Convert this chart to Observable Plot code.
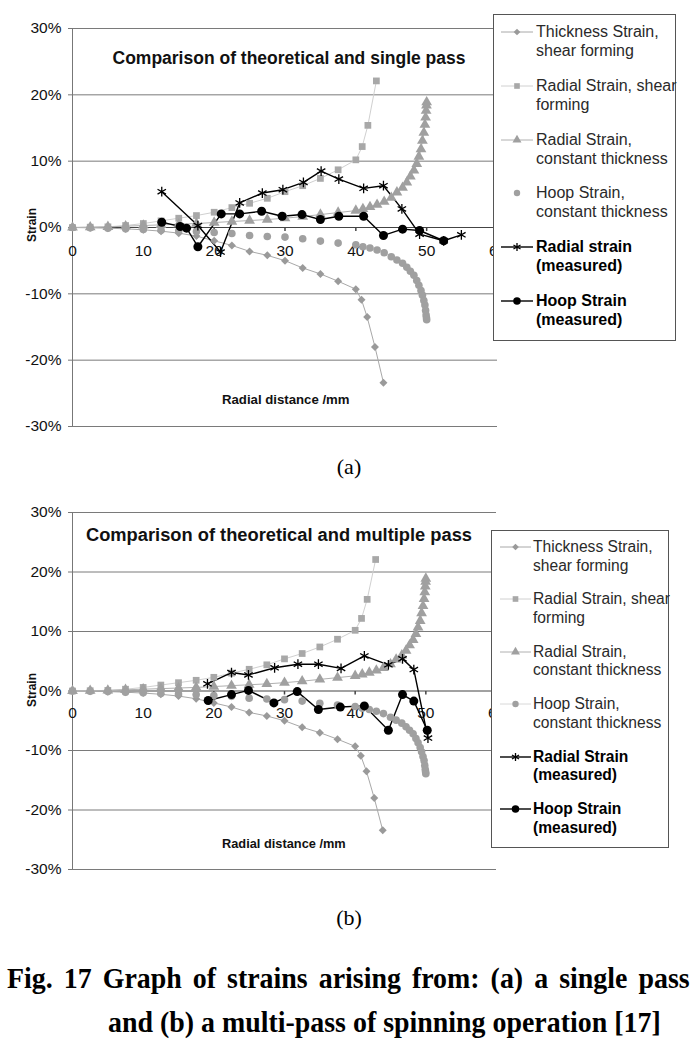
<!DOCTYPE html>
<html>
<head>
<meta charset="utf-8">
<script src="https://cdn.jsdelivr.net/npm/d3@7"></script>
<script src="https://cdn.jsdelivr.net/npm/@observablehq/plot@0.6"></script>
<style>
  html, body { margin: 0; padding: 0; background: #fff; }
  #page { position: relative; width: 698px; height: 1049px; overflow: hidden; font-family: "Liberation Sans", Arial, sans-serif; }
  .abs { position: absolute; white-space: nowrap; }
  .title { font-weight: bold; color: #111; transform: translate(-50%, -50%); }
  .axlab { font-weight: bold; color: #111; }
  .legend { position: absolute; border: 1px solid #555; background: #fff; box-sizing: border-box; }
  .legend .t { position: absolute; color: #2a2a2a; white-space: nowrap; transform: translateY(-50%); }
  .legend .t.b { font-weight: bold; color: #000; }
  .cap { font-family: "Liberation Serif", "Times New Roman", serif; color: #000; }
  .just { text-align: justify; text-align-last: justify; }
</style>
</head>
<body>
<div id="page"></div>
<script>
// ---------- data ----------
const xTicks = [0, 10, 20, 30, 40, 50, 60];
const yTicks = [-30, -20, -10, 0, 10, 20, 30];

// theoretical curves (same in both panels), strain in %
const shearX = [0,2.5,5,7.5,10,12.5,15,17.5,20,22.5,25,27.5,30,32.5,35,37.5,40,40.8,41.6,42.7,43.9];
const thicknessShear = [0,-0.05,-0.1,-0.2,-0.35,-0.55,-0.85,-1.3,-2.0,-2.7,-3.6,-4.2,-5.0,-6.1,-7.0,-8.1,-9.3,-10.9,-13.5,-18.0,-23.4];

const radialShearX = [0,2.5,5,7.5,10,12.5,15,17.5,20,22.5,25,27.5,30,32.5,35,37.5,40,40.9,41.7,42.9];
const radialShear = [0,0.05,0.1,0.3,0.6,1.0,1.4,1.8,2.3,3.0,3.65,4.4,5.4,6.3,7.4,8.7,10.2,12.2,15.4,22.1];

const constX = [0,2.5,5,7.5,10,12.5,15,17.5,20,22.5,25,27.5,30,32.5,35,37.5,40,41,42,43,44,45,45.8,46.6,47.2,47.7,48.2,48.6,48.9,49.2,49.4,49.6,49.75,49.85,49.92,49.97,50];
const radialConst = [0,0.05,0.1,0.2,0.3,0.4,0.5,0.6,0.75,0.9,1.05,1.2,1.4,1.65,1.95,2.25,2.55,2.8,3.1,3.45,3.9,4.5,5.3,6.0,6.8,7.7,8.6,9.6,10.7,11.8,13.1,14.3,15.5,16.6,17.6,18.4,18.9];
const hoopConst = [0,-0.05,-0.1,-0.2,-0.3,-0.4,-0.5,-0.6,-0.75,-0.9,-1.2,-1.35,-1.45,-1.7,-2.05,-2.35,-2.6,-2.9,-3.1,-3.4,-3.8,-4.4,-4.9,-5.4,-6.0,-6.6,-7.2,-8.0,-8.7,-9.5,-10.2,-11.0,-11.7,-12.5,-13.2,-13.6,-13.9];

// measured, panel (a) single pass
const radialMeasA_X = [12.6,17.7,20.9,23.6,26.8,29.7,32.6,35.1,37.6,41.1,43.9,46.5,49.0,52.4,54.9];
const radialMeasA = [5.4,0.3,-3.7,3.7,5.2,5.7,6.8,8.5,7.3,5.9,6.3,2.8,-1.0,-2.0,-1.1];
const hoopMeasA_X = [12.6,15.2,16.1,17.7,21.0,23.6,26.7,29.6,32.4,35.0,37.6,41.1,43.9,46.6,49.0,52.4];
const hoopMeasA = [0.8,0.15,-0.1,-2.9,2.05,2.05,2.45,1.7,1.95,1.2,1.7,1.7,-1.2,-0.25,-0.45,-2.0];

// measured, panel (b) multiple pass
const radialMeasB_X = [19.1,22.5,24.9,28.6,31.9,34.8,38.0,41.3,44.7,46.7,48.3,50.3];
const radialMeasB = [1.2,3.1,2.7,3.9,4.5,4.5,3.8,5.9,4.4,5.4,3.6,-7.9];
const hoopMeasB_X = [19.2,22.5,24.9,28.5,31.8,34.8,37.9,41.3,44.7,46.7,48.3,50.2];
const hoopMeasB = [-1.6,-0.6,0.1,-2.0,-0.1,-3.1,-2.7,-2.5,-6.6,-0.6,-1.7,-6.6];

const legendA = ["Thickness Strain,|shear forming", "Radial Strain, shear|forming", "Radial Strain,|constant thickness", "Hoop Strain,|constant thickness", "Radial strain|(measured)", "Hoop Strain|(measured)"];
const legendB = ["Thickness Strain,|shear forming", "Radial Strain, shear|forming", "Radial Strain,|constant thickness", "Hoop Strain,|constant thickness", "Radial Strain|(measured)", "Hoop Strain|(measured)"];

// ---------- helpers ----------
const pts = (xs, ys) => xs.map((x, i) => ({x, y: ys[i]}));
const tickSymbol = { draw(ctx, size) { const h = Math.sqrt(size); ctx.moveTo(0, 0); ctx.lineTo(0, h); } };

const styles = [
  {symbol: "diamond2", fill: "#9a9a9a", stroke: "none", r: 3.6, line: "#a8a8a8", lw: 1},
  {symbol: "square", fill: "#a8a8a8", stroke: "none", r: 3.8, line: "#d0d0d0", lw: 1},
  {symbol: "triangle", fill: "#a0a0a0", stroke: "none", r: 4.0, line: "#b0b0b0", lw: 1},
  {symbol: "circle", fill: "#a0a0a0", stroke: "none", r: 3.8, line: null, lw: 1},
  {symbol: "asterisk", fill: "none", stroke: "#000", r: 4.6, line: "#000", lw: 1.4},
  {symbol: "circle", fill: "#000", stroke: "none", r: 4.5, line: "#000", lw: 1.4}
];

function chart(cfg) {
  const seriesData = [
    pts(shearX, thicknessShear),
    pts(radialShearX, radialShear),
    pts(constX, radialConst),
    pts(constX, hoopConst),
    pts(cfg.radX, cfg.rad),
    pts(cfg.hoopX, cfg.hoop)
  ];
  const marks = [
    Plot.gridY(yTicks.filter(d => d !== 0), {stroke: "#7a7a7a", strokeOpacity: 1, strokeWidth: 1}),
    Plot.axisY(yTicks, {label: null, tickFormat: d => d + "%", tickSize: 4, tickPadding: 7, fontSize: 15.5, stroke: "#777", color: "#111"}),
    Plot.ruleX([0], {stroke: "#777", strokeWidth: 1}),
    Plot.ruleY([0], {stroke: "#444", strokeWidth: 1}),
    Plot.dot(xTicks.slice(1), {x: d => d, y: 0, symbol: tickSymbol, r: 2, stroke: "#444", fill: "none"}),
    Plot.text(xTicks, {x: d => d, y: 0, text: d => String(d), dy: cfg.xLabelDy, fontSize: 15.5, fill: "#111"})
  ];
  seriesData.forEach((data, i) => {
    const s = styles[i];
    if (s.line) marks.push(Plot.line(data, {x: "x", y: "y", stroke: s.line, strokeWidth: s.lw, curve: "linear"}));
  });
  seriesData.forEach((data, i) => {
    const s = styles[i];
    marks.push(Plot.dot(data, {x: "x", y: "y", symbol: s.symbol, r: s.r, fill: s.fill, stroke: s.stroke, strokeWidth: 1.3}));
  });
  const svg = Plot.plot({
    width: 698,
    height: cfg.height,
    marginLeft: 72,
    marginRight: cfg.marginRight,
    marginTop: cfg.marginTop,
    marginBottom: cfg.marginBottom,
    x: {domain: [0, 60], axis: null},
    y: {domain: [-30, 30], axis: null},
    style: {background: "transparent", fontFamily: "'Liberation Sans', Arial, sans-serif", overflow: "visible"},
    marks
  });
  svg.style.position = "absolute";
  svg.style.left = "0px";
  svg.style.top = cfg.top + "px";
  return svg;
}

function legend(cfg, labels) {
  const box = document.createElement("div");
  box.className = "legend";
  Object.assign(box.style, {left: cfg.left + "px", top: cfg.top + "px", width: cfg.w + "px", height: cfg.h + "px"});
  const symMap = {diamond2: d3.symbolDiamond2, square: d3.symbolSquare, triangle: d3.symbolTriangle, circle: d3.symbolCircle, asterisk: d3.symbolAsterisk};
  labels.forEach((lab, i) => {
    const s = styles[i];
    const cy = cfg.first + i * cfg.step;
    const svg = d3.create("svg").attr("width", 40).attr("height", 14)
      .style("position", "absolute").style("left", cfg.lx + "px").style("top", (cy - 7) + "px").style("overflow", "visible");
    const showLine = s.line || cfg.hoopLine;
    if (showLine) svg.append("line").attr("x1", 0).attr("x2", cfg.lw).attr("y1", 7).attr("y2", 7)
      .attr("stroke", s.line || "#d8d8d8").attr("stroke-width", s.lw);
    svg.append("path").attr("d", d3.symbol(symMap[s.symbol], Math.PI * s.r * s.r * 0.7)())
      .attr("transform", `translate(${cfg.lw / 2},7)`)
      .attr("fill", s.fill).attr("stroke", s.stroke).attr("stroke-width", 1.3);
    box.appendChild(svg.node());
    lab.split("|").forEach((line, j) => {
      const t = document.createElement("div");
      t.className = "t" + (i >= 4 ? " b" : "");
      t.textContent = line;
      t.style.fontSize = cfg.fs + "px";
      t.style.left = cfg.tx + "px";
      t.style.top = (cy + j * cfg.lh) + "px";
      box.appendChild(t);
    });
  });
  return box;
}

function text(str, cls, css) {
  const d = document.createElement("div");
  d.className = "abs " + cls;
  d.textContent = str;
  Object.assign(d.style, css);
  return d;
}

const page = document.getElementById("page");

// ---------- panel (a) ----------
page.appendChild(chart({top: 0, height: 440, marginTop: 28, marginBottom: 14, marginRight: 201, xLabelDy: 24,
  radX: radialMeasA_X, rad: radialMeasA, hoopX: hoopMeasA_X, hoop: hoopMeasA}));
page.appendChild(text("Comparison of theoretical and single pass", "title", {left: "289px", top: "58px", fontSize: "17.5px"}));
page.appendChild(text("Strain", "axlab", {left: "32px", top: "225px", fontSize: "12px", transform: "translate(-50%,-50%) rotate(-90deg)"}));
page.appendChild(text("Radial distance /mm", "axlab", {left: "222px", top: "399px", fontSize: "13.2px", transform: "translateY(-50%)"}));
page.appendChild(legend({left: 493, top: 14, w: 183, h: 327, first: 17, step: 53.8, lh: 19, lx: 7, lw: 32, tx: 42, fs: 16, hoopLine: false}, legendA));
page.appendChild(text("(a)", "cap", {left: "349px", top: "467px", fontSize: "22px", transform: "translate(-50%,-50%)"}));

// ---------- panel (b) ----------
page.appendChild(chart({top: 470, height: 410, marginTop: 42, marginBottom: 11, marginRight: 202, xLabelDy: 22.5,
  radX: radialMeasB_X, rad: radialMeasB, hoopX: hoopMeasB_X, hoop: hoopMeasB}));
page.appendChild(text("Comparison of theoretical and multiple pass", "title", {left: "279px", top: "535px", fontSize: "18.3px"}));
page.appendChild(text("Strain", "axlab", {left: "32px", top: "690px", fontSize: "12px", transform: "translate(-50%,-50%) rotate(-90deg)"}));
page.appendChild(text("Radial distance /mm", "axlab", {left: "222px", top: "843px", fontSize: "12.8px", transform: "translateY(-50%)"}));
page.appendChild(legend({left: 491, top: 530, w: 178, h: 318, first: 16, step: 52.4, lh: 18.5, lx: 8, lw: 31, tx: 41, fs: 15.6, hoopLine: true}, legendB));
page.appendChild(text("(b)", "cap", {left: "349px", top: "918px", fontSize: "22px", transform: "translate(-50%,-50%)"}));

// ---------- figure caption ----------
page.appendChild(text("Fig. 17 Graph of strains arising from: (a) a single pass", "cap just", {left: "7px", width: "734px", top: "978px", fontSize: "30px", fontWeight: "bold", transformOrigin: "0 50%", transform: "translateY(-50%) scaleX(0.93)"}));
page.appendChild(text("and (b) a multi-pass of spinning operation [17]", "cap", {left: "108px", top: "1022px", fontSize: "30px", fontWeight: "bold", transformOrigin: "0 50%", transform: "translateY(-50%) scaleX(0.93)"}));
</script>
</body>
</html>
